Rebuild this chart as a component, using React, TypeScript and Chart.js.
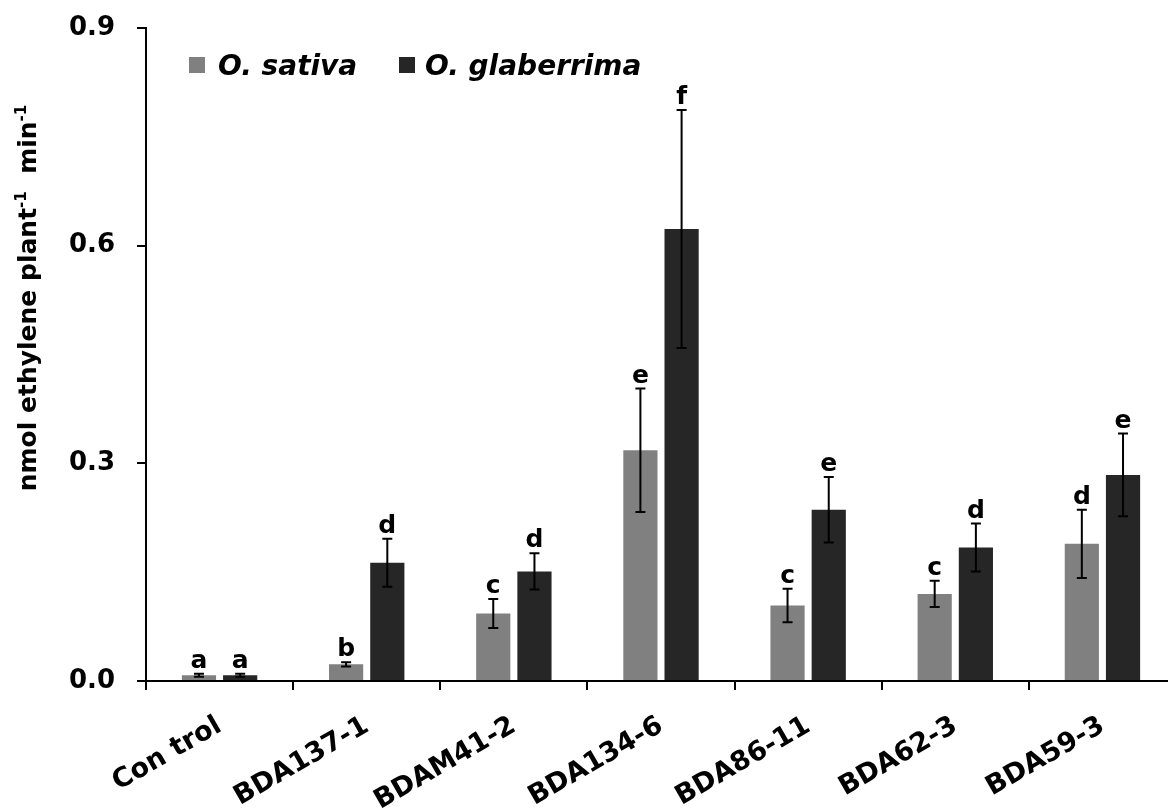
import { useEffect, useRef } from "react";
import { Chart, registerables } from "chart.js";

Chart.register(...registerables);

const categories = ["Con trol", "BDA137-1", "BDAM41-2", "BDA134-6", "BDA86-11", "BDA62-3", "BDA59-3"];
const sativa = [0.008, 0.023, 0.093, 0.318, 0.104, 0.12, 0.189];
const sativaErr = [0.002, 0.003, 0.02, 0.085, 0.023, 0.018, 0.047];
const glaberrima = [0.008, 0.163, 0.151, 0.623, 0.236, 0.184, 0.284];
const glaberrimaErr = [0.002, 0.033, 0.025, 0.164, 0.045, 0.033, 0.057];
const sativaLetters = ["a", "b", "c", "e", "c", "c", "d"];
const glaberrimaLetters = ["a", "d", "d", "f", "e", "d", "e"];
const yTicks = [0, 0.3, 0.6, 0.9];

const FONT = "'DejaVu Sans', Verdana, sans-serif";

export default function App() {
  const ref = useRef<HTMLCanvasElement>(null);

  useEffect(() => {
    const canvas = ref.current!;
    const errs = [sativaErr, glaberrimaErr];
    const letters = [sativaLetters, glaberrimaLetters];

    const errorPlugin = {
      id: "errs",
      afterDatasetsDraw(chart: any) {
        const ctx = chart.ctx;
        const y = chart.scales.y;
        chart.data.datasets.forEach((ds: any, di: number) => {
          const meta = chart.getDatasetMeta(di);
          meta.data.forEach((el: any, i: number) => {
            const v = ds.data[i];
            const e = errs[di][i];
            const top = y.getPixelForValue(v + e);
            const bot = y.getPixelForValue(Math.max(0, v - e));
            const x = el.x;
            ctx.save();
            ctx.strokeStyle = "#000";
            ctx.lineWidth = 2;
            ctx.beginPath();
            ctx.moveTo(x, top);
            ctx.lineTo(x, bot);
            ctx.moveTo(x - 5, top);
            ctx.lineTo(x + 5, top);
            ctx.moveTo(x - 5, bot);
            ctx.lineTo(x + 5, bot);
            ctx.stroke();
            ctx.fillStyle = "#000";
            ctx.font = `bold 25px ${FONT}`;
            ctx.textAlign = "center";
            ctx.textBaseline = "alphabetic";
            ctx.fillText(letters[di][i], x, top - 6);
            ctx.restore();
          });
        });
      },
    };

    const decorPlugin = {
      id: "decor",
      afterDraw(chart: any) {
        const ctx = chart.ctx;
        ctx.save();
        // legend
        const ds = chart.data.datasets;
        const legendPos = [
          { sq: 189, tx: 218 },
          { sq: 399, tx: 425 },
        ];
        ds.forEach((d: any, i: number) => {
          ctx.fillStyle = d.backgroundColor;
          ctx.fillRect(legendPos[i].sq, 57, 16, 16);
          ctx.fillStyle = "#000";
          ctx.font = `italic bold 28px ${FONT}`;
          ctx.textAlign = "left";
          ctx.textBaseline = "alphabetic";
          ctx.fillText(d.label, legendPos[i].tx, 75);
        });
        // y title
        ctx.translate(36, 298);
        ctx.rotate(-Math.PI / 2);
        const main = `bold 25px ${FONT}`;
        const sup = `bold 15px ${FONT}`;
        const parts = [
          { t: "nmol ethylene plant", f: main, dy: 0 },
          { t: "-1", f: sup, dy: -10 },
          { t: "  min", f: main, dy: 0 },
          { t: "-1", f: sup, dy: -10 },
        ];
        let total = 0;
        parts.forEach((p) => {
          ctx.font = p.f;
          total += ctx.measureText(p.t).width;
        });
        let xx = -total / 2;
        ctx.fillStyle = "#000";
        ctx.textAlign = "left";
        ctx.textBaseline = "alphabetic";
        parts.forEach((p) => {
          ctx.font = p.f;
          ctx.fillText(p.t, xx, p.dy);
          xx += ctx.measureText(p.t).width;
        });
        ctx.restore();
      },
    };

    const chart = new Chart(canvas, {
      type: "bar",
      data: {
        labels: categories,
        datasets: [
          { label: "O. sativa", data: sativa, backgroundColor: "#808080", borderWidth: 0 },
          { label: "O. glaberrima", data: glaberrima, backgroundColor: "#262626", borderWidth: 0 },
        ],
      },
      options: {
        responsive: false,
        maintainAspectRatio: false,
        animation: false,
        devicePixelRatio: 1,
        layout: { padding: { top: 28, left: 0, right: 0, bottom: 0 } },
        datasets: { bar: { categoryPercentage: 0.56, barPercentage: 0.83 } },
        plugins: { legend: { display: false }, tooltip: { enabled: false } },
        scales: {
          x: {
            afterFit: (s: any) => {
              s.height = 129;
              s.paddingLeft = 0;
              s.paddingRight = 0;
            },
            border: { display: true, color: "#000", width: 2 },
            grid: { offset: true, drawOnChartArea: false, drawTicks: true, tickLength: 9, color: "#000", lineWidth: 2 },
            ticks: {
              color: "#000",
              font: { family: FONT, weight: "bold", size: 27 },
              minRotation: 30,
              maxRotation: 30,
              autoSkip: false,
              padding: 20,
            },
          },
          y: {
            min: 0,
            max: 0.9,
            afterFit: (s: any) => {
              s.width = 146;
              s.paddingTop = 0;
              s.paddingBottom = 0;
            },
            afterBuildTicks: (s: any) => {
              s.ticks = yTicks.map((v) => ({ value: v }));
            },
            border: { display: true, color: "#000", width: 2 },
            grid: { drawOnChartArea: false, drawTicks: true, tickLength: 9, color: "#000", lineWidth: 2 },
            ticks: {
              color: "#000",
              font: { family: FONT, weight: "bold", size: 26 },
              padding: 22,
              callback: (v: any) => Number(v).toFixed(1),
            },
          },
        },
      },
      plugins: [errorPlugin, decorPlugin],
    } as any);

    return () => chart.destroy();
  }, []);

  return (
    <div
      style={{
        position: "fixed",
        left: 0,
        top: 0,
        width: 1168,
        height: 810,
        overflow: "hidden",
        background: "#fff",
      }}
    >
      <canvas ref={ref} width={1176} height={810} style={{ display: "block" }} />
    </div>
  );
}
